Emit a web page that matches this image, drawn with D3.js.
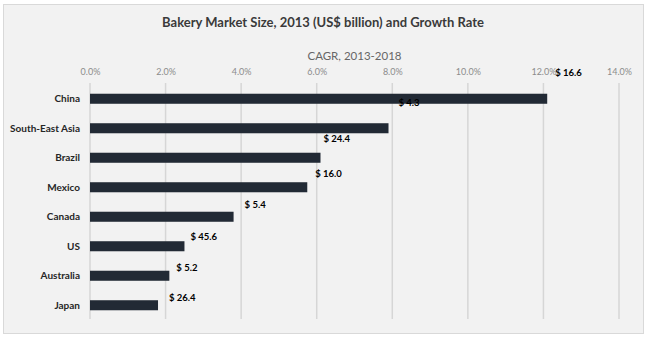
<!DOCTYPE html>
<html>
<head>
<meta charset="utf-8">
<script src="https://cdn.jsdelivr.net/npm/d3@7"></script>
<style>
    body { margin: 0; background: #ffffff; }
    svg { display: block; font-family: Lato, "Open Sans", sans-serif; }
</style>
</head>
<body>
<div id="chart"></div>
<script>
// chart data
const categories = ["China", "South-East Asia", "Brazil", "Mexico", "Canada", "US", "Australia", "Japan"];
const cagr = [12.1, 7.9, 6.1, 5.75, 3.8, 2.5, 2.1, 1.8];
const marketSize = [16.6, 4.3, 24.4, 16.0, 5.4, 45.6, 5.2, 26.4];
const tickValues = [0, 2, 4, 6, 8, 10, 12, 14];

// where each market size label sits relative to its bar end (px)
const labelDx = [8, 10, 3, 8, 11, 6, 7, 11];
const labelDy = [-26, -26, -19, -14, -12, -10, -8, -8];

const width = 650, height = 342;
const margin = {top: 84, right: 31, bottom: 22, left: 90};

const svg = d3.select("#chart")
    .append("svg")
    .attr("width", width)
    .attr("height", height);

svg.append("rect")
    .attr("x", 3.5).attr("y", 4.5)
    .attr("width", 640).attr("height", 329)
    .attr("fill", "#f2f2f2")
    .attr("stroke", "#d9d9d9");

const x = d3.scaleLinear()
    .domain([0, 14])
    .range([margin.left, width - margin.right]);

const y = d3.scaleBand()
    .domain(categories)
    .range([margin.top, height - margin.bottom])
    .paddingInner(0.66)
    .paddingOuter(0.33);

// gridlines
svg.append("g")
    .selectAll("line")
    .data(tickValues)
    .enter()
    .append("line")
    .attr("x1", d => x(d)).attr("x2", d => x(d))
    .attr("y1", margin.top - 1).attr("y2", height - margin.bottom - 1)
    .attr("stroke", "#d6d6d6")
    .attr("stroke-width", 1.5);

// top axis labels
const axis = svg.append("g")
    .attr("transform", "translate(0,78)")
    .call(d3.axisTop(x).tickValues(tickValues).tickSize(0).tickFormat(d => d.toFixed(1) + "%"));
axis.select(".domain").remove();
axis.selectAll("text")
    .attr("fill", "#8c8c8c")
    .style("font-size", "9px")
    .style("font-family", "Lato, sans-serif");

svg.append("text")
    .attr("x", (x(0) + x(14)) / 2)
    .attr("y", 60)
    .attr("text-anchor", "middle")
    .attr("fill", "#666666")
    .style("font-size", "11.5px")
    .text("CAGR, 2013-2018");

svg.append("text")
    .attr("x", 323)
    .attr("y", 27)
    .attr("text-anchor", "middle")
    .attr("fill", "#3a3a3a")
    .style("font-size", "13px")
    .style("font-weight", "bold")
    .text("Bakery Market Size, 2013 (US$ billion) and Growth Rate");

// bars
svg.append("g")
    .selectAll("rect")
    .data(categories)
    .enter()
    .append("rect")
    .attr("x", x(0))
    .attr("y", d => y(d))
    .attr("width", (d, i) => x(cagr[i]) - x(0))
    .attr("height", y.bandwidth())
    .attr("fill", "#222a35");

// category labels
svg.append("g")
    .selectAll("text")
    .data(categories)
    .enter()
    .append("text")
    .attr("x", x(0) - 10)
    .attr("y", d => y(d) + y.bandwidth() / 2)
    .attr("dy", "0.35em")
    .attr("text-anchor", "end")
    .attr("fill", "#262626")
    .style("font-size", "10px")
    .style("font-weight", "bold")
    .text(d => d);

// market size labels
svg.append("g")
    .selectAll("text")
    .data(categories)
    .enter()
    .append("text")
    .attr("x", (d, i) => x(cagr[i]) + labelDx[i])
    .attr("y", (d, i) => y(d) + y.bandwidth() / 2 + labelDy[i])
    .attr("dy", "0.35em")
    .attr("fill", "#000000")
    .style("font-size", "9.5px")
    .style("font-weight", "bold")
    .text((d, i) => "$ " + marketSize[i].toFixed(1));
</script>
</body>
</html>
